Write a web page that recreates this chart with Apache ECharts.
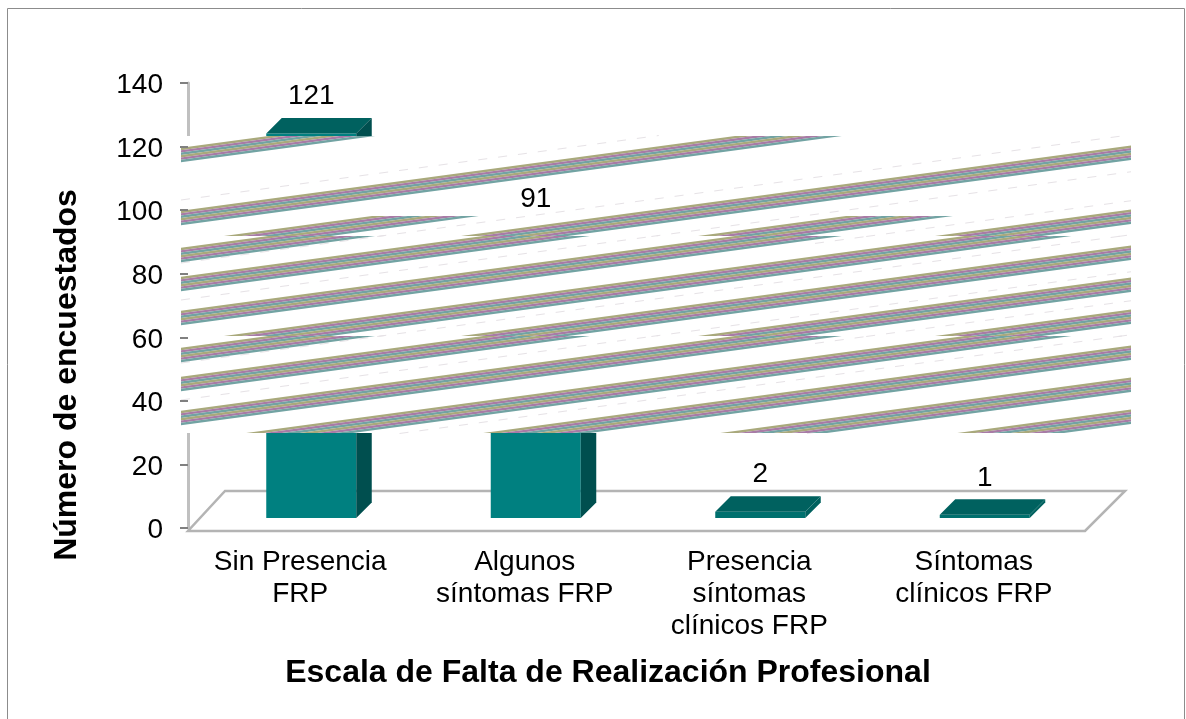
<!DOCTYPE html>
<html><head><meta charset="utf-8">
<style>html,body{margin:0;padding:0;background:#fff}#c{width:1186px;height:719px}</style>
<script src="https://cdn.jsdelivr.net/npm/echarts@6/dist/echarts.min.js"></script>
</head><body><div id="c"></div>
<script>
const categories = ['Sin Presencia\nFRP','Algunos\nsíntomas FRP','Presencia\nsíntomas\nclínicos FRP','Síntomas\nclínicos FRP'];
const values = [121, 91, 2, 1];
const axisTicks = [0, 140, 20];
const yTitle = 'Número de encuestados';
const xTitle = 'Escala de Falta de Realización Profesional';

// scan-artefact bands crossing the picture (decoration, not data)
const stripeColors = ['#a9a97c','#a87ba6','#72a3a3','#a9a97c','#a87ba6','#72a3a3'];
const tiles = [
  {y0:136,y1:236,lines:[[155],[218],[249,216],[281],[313,216],[345]]},
  {y0:236,y1:336,lines:[[255],[284],[318],[349],[381],[413],[445]]},
  {y0:336,y1:433,lines:[[355],[384],[418],[449],[481],[513],[545]]}
];
const dashLines = [[200,181],[263,181],[300,181],[363,181],[400,181],[463,181],[329,815],[429,815],[518,700]];

const PL=181,PR=1131,SLOPE=-0.135;
function clipY(poly,ymin,ymax){
  const cut=(p,inside,yc)=>{const o=[];for(let i=0;i<p.length;i++){const a=p[i],b=p[(i+1)%p.length];
    const ia=inside(a),ib=inside(b);
    if(ia)o.push(a);
    if(ia!==ib){const t=(yc-a[1])/(b[1]-a[1]);o.push([a[0]+t*(b[0]-a[0]),yc]);}}return o;};
  let r=cut(poly,q=>q[1]>=ymin,ymin); if(r.length) r=cut(r,q=>q[1]<=ymax,ymax); return r;
}
const lineY=(y,x)=>y+SLOPE*(x-PL);
const graphics=[];
graphics.push({type:'rect',z:0,silent:true,shape:{x:7.5,y:8.5,width:1177,height:720},style:{fill:'none',stroke:'#8c8c8c',lineWidth:1}});
graphics.push({type:'rect',z:10,silent:true,shape:{x:PL,y:136,width:PR-PL,height:297},style:{fill:'#fff'}});
tiles.forEach(t=>{
  dashLines.forEach(d=>{
    const x0=Math.max(d[1],PL);
    let p=[[x0,lineY(d[0],x0)-.5],[PR,lineY(d[0],PR)-.5],[PR,lineY(d[0],PR)+.5],[x0,lineY(d[0],x0)+.5]];
    p=clipY(p,t.y0,t.y1);
    if(p.length>2){
      const xs=p.map(q=>q[0]);
      const a=Math.min(...xs),b=Math.max(...xs);
      graphics.push({type:'line',z:11,silent:true,shape:{x1:a,y1:lineY(d[0],a),x2:b,y2:lineY(d[0],b)},style:{stroke:'#e6e2e6',lineWidth:1,lineDash:[9,11]}});
    }
  });
  t.lines.forEach(l=>{
    const ymin=Math.max(t.y0,l[1]||t.y0);
    stripeColors.forEach((c,i)=>{
      const h=2.4,o=-7.2+i*h;
      const p=[[PL,lineY(l[0],PL)+o],[PR,lineY(l[0],PR)+o],[PR,lineY(l[0],PR)+o+h],[PL,lineY(l[0],PL)+o+h]];
      const r=clipY(p,ymin,t.y1);
      if(r.length>2) graphics.push({type:'polygon',z:12,silent:true,shape:{points:r},style:{fill:c}});
    });
  });
});
graphics.push({type:'text',z:30,silent:true,x:67,y:375,rotation:Math.PI/2,style:{text:yTitle,font:'bold 32px "Liberation Sans"',fill:'#000',textAlign:'center',textVerticalAlign:'middle'}});
graphics.push({type:'text',z:30,silent:true,x:608,y:673,style:{text:xTitle,font:'bold 32px "Liberation Sans"',fill:'#000',textAlign:'center',textVerticalAlign:'middle'}});

const chart=echarts.init(document.getElementById('c'),null,{renderer:'canvas'});
const FONT='"Liberation Sans"';
chart.setOption({
  animation:false,
  grid:{left:188,right:100,top:83,bottom:191,containLabel:false},
  xAxis:{type:'category',data:categories,axisLine:{show:false},axisTick:{show:false},
    axisLabel:{color:'#000',fontFamily:FONT,fontSize:28,lineHeight:32,margin:18,interval:0}},
  yAxis:[
    {type:'value',min:axisTicks[0],max:axisTicks[1],interval:axisTicks[2],splitLine:{show:false},
     axisLine:{show:true,lineStyle:{color:'#c0c0c0',width:3}},axisTick:{show:false},
     axisLabel:{margin:25,formatter:'{n|{value}}',rich:{n:{color:'#000',fontFamily:FONT,fontSize:28,padding:[5,0,0,0]}}}},
    {type:'value',min:axisTicks[0],max:axisTicks[1],interval:axisTicks[2],position:'left',z:20,splitLine:{show:false},
     axisLine:{show:false},axisTick:{show:true,length:8,lineStyle:{color:'#808080',width:2}},axisLabel:{show:false}}
  ],
  graphic:{elements:graphics},
  series:[
    {type:'custom',z:1,silent:true,data:[0],clip:false,renderItem:(p,api)=>{
      const s=p.coordSys,x0=s.x,x1=s.x+s.width,yb=s.y+s.height;
      return {type:'polygon',shape:{points:[[x0,yb+3],[x1-1,yb+3],[x1+39,yb-37],[x0+37,yb-37]]},
        style:{fill:'#fff',stroke:'#b4b4b4',lineWidth:2.5}};
    }},
    {type:'custom',z:3,silent:true,clip:false,data:values.map((v,i)=>[i,v]),encode:{x:0,y:1},renderItem:(p,api)=>{
      const c=api.coord([api.value(0),api.value(1)]),z=api.coord([api.value(0),0]);
      const cx=c[0]+11,hw=45,d=15.5,base=z[1]-10,top=c[1]-10,l=cx-hw,r=cx+hw;
      const low=base-top<10;
      return {type:'group',children:[
        {type:'polygon',shape:{points:[[l,base],[r,base],[r,top],[l,top]]},style:{fill:low?'#00706e':'#008080'}},
        {type:'polygon',shape:{points:[[l,top],[r,top],[r+d,top-d],[l+d,top-d]]},style:{fill:'#00615f'}},
        {type:'polygon',shape:{points:[[r,base],[r+d,base-d],[r+d,top-d],[r,top]]},style:{fill:low?'#00615f':'#004f4f'}}
      ]};
    }},
    {type:'scatter',z:30,symbolSize:0,silent:true,clip:false,itemStyle:{opacity:1},
     data:values.map((v,i)=>({value:[i,v],label:{show:true,position:'inside',formatter:p=>p.value[1],color:'#000',opacity:1,fontFamily:FONT,fontSize:28,offset:[11,v===91?-39:-47]}}))}
  ]
});
</script></body></html>
